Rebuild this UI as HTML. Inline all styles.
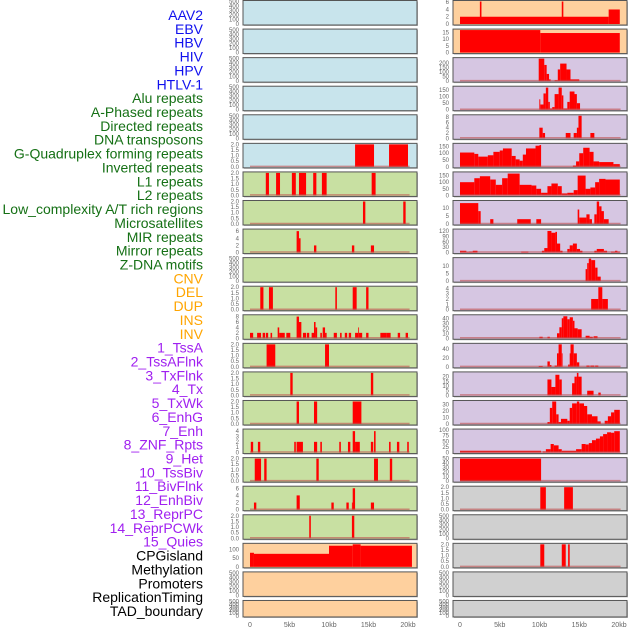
<!DOCTYPE html>
<html><head><meta charset="utf-8"><style>
html,body{margin:0;padding:0;background:#fff;}
svg{display:block;font-family:"Liberation Sans",sans-serif;}
</style></head><body>
<svg id="chart" width="630" height="630" viewBox="0 0 630 630" xmlns="http://www.w3.org/2000/svg"></svg>
<script>
// ---- data ----
const trackLabels = ["AAV2","EBV","HBV","HIV","HPV","HTLV-1","Alu repeats","A-Phased repeats","Directed repeats","DNA transposons","G-Quadruplex forming repeats","Inverted repeats","L1 repeats","L2 repeats","Low_complexity A/T rich regions","Microsatellites","MIR repeats","Mirror repeats","Z-DNA motifs","CNV","DEL","DUP","INS","INV","1_TssA","2_TssAFlnk","3_TxFlnk","4_Tx","5_TxWk","6_EnhG","7_Enh","8_ZNF_Rpts","9_Het","10_TssBiv","11_BivFlnk","12_EnhBiv","13_ReprPC","14_ReprPCWk","15_Quies","CPGisland","Methylation","Promoters","ReplicationTiming","TAD_boundary"];
const labelGroups = [0,0,0,0,0,0,1,1,1,1,1,1,1,1,1,1,1,1,1,2,2,2,2,2,3,3,3,3,3,3,3,3,3,3,3,3,3,3,3,4,4,4,4,4];
const groupColors = ["#1010ee","#157015","#ffa500","#a020f0","#000000"];
const xTicks = [0,5,10,15,20];
const xTickLabels = ["0","5kb","10kb","15kb","20kb"];
const leftBg = ["b","b","b","b","b","b","g","g","g","g","g","g","g","g","g","g","g","g","g","o","o","o"];
const rightBg = ["o","o","p","p","p","p","p","p","p","p","p","p","p","p","p","p","p","y","y","y","y","y"];
const E = [0,100,200,300,400,500];
const T2 = [0,0.5,1,1.5,2];
const leftYmax = [500,500,500,500,500,2,2,2,6.3,500,2,8.3,2,2,2,4.2,2,6.3,2,128,500,500];
const leftTicks = [E,E,E,E,E,T2,T2,T2,[0,2,4,6],E,T2,[0,2,4,6,8],T2,T2,T2,[0,1,2,3,4],T2,[0,2,4,6],T2,[0,50,100],E,E];
const leftSegs = [
 [],[],[],[],[],
 [[13.3,15.7,2],[17.6,20.0,2]],
 [[2.0,2.4,2],[3.3,3.8,2],[5.3,5.8,2],[6.2,7.1,2],[8.0,8.4,2],[9.1,9.7,2],[15.4,15.9,2]],
 [[14.3,14.6,2],[19.4,19.7,2]],
 [[5.9,6.2,6],[6.2,6.4,4],[8.1,8.4,2],[12.9,13.2,2],[15.3,15.7,2]],
 [],
 [[1.3,1.7,2],[2.4,2.9,2],[10.8,11.0,2],[13.0,13.5,2],[14.7,15.0,2]],
 [[0,0.4,2],[0.9,1.4,2],[1.6,1.9,2],[2.0,2.3,2],[2.6,2.8,2],[3.5,3.7,4],[3.7,4.4,2],[4.6,5.1,2],[5.9,6.2,8],[6.2,6.5,6],[6.7,7.1,2],[7.2,7.5,2],[7.8,8.1,2],[8.1,8.3,6],[8.3,8.5,4],[8.9,9.1,2],[9.2,9.5,4],[9.5,9.7,2],[10.6,11.0,2],[11.4,11.6,2],[12.0,12.3,2],[12.5,12.8,2],[13.3,13.7,2],[13.7,13.8,4],[13.8,14.2,2],[14.7,15.0,2],[16.5,17.3,2],[17.3,17.8,2],[18.7,19.0,2],[19.7,20.0,2]],
 [[2.1,3.2,2],[9.5,10.0,2]],
 [[5.1,5.4,2],[15.3,15.6,2]],
 [[5.9,6.2,2],[8.1,8.5,2],[13.0,14.1,2]],
 [[0.1,0.4,2],[1.0,1.3,2],[5.6,5.8,2],[5.9,6.7,2],[8.1,8.5,2],[8.9,9.1,2],[11.3,11.5,2],[12.4,12.7,2],[13.0,13.3,4],[13.3,13.9,2],[15.3,15.6,2],[15.7,15.9,4],[17.6,17.8,2],[18.6,18.9,2],[19.9,20.1,2]],
 [[0.6,1.4,2],[1.8,2.1,2],[8.4,8.7,2],[15.7,16.2,2],[17.7,18.0,2]],
 [[0.5,0.8,2],[5.9,6.3,4],[10.3,10.6,2],[12.2,12.5,2],[12.9,13.0,2],[13.0,13.3,6],[15.3,15.7,2]],
 [[7.5,7.7,2],[12.9,13.2,2]],
 [[0,0.5,80],[0.5,10.0,74],[10.0,13.0,120],[13.0,14.0,128],[14.0,20.5,120]],
 [],[]
];
const rightYmax = [6.2,16.7,250,173,8.5,165,170,14,125,15,4.2,45,50,24,35,100,50,2,500,2,500,500];
const rightTicks = [[0,2,4,6],[0,5,10,15],[0,50,100,150,200],[0,50,100,150],[0,2,4,6,8],[0,50,100,150],[0,50,100,150],[0,5,10],[0,30,60,90,120],[0,5,10],[0,1,2,3,4],[0,10,20,30,40],[0,20,40],[0,5,10,15,20],[0,10,20,30],[0,25,50,75,100],[0,10,20,30,40,50],T2,E,T2,E,E];
const rightSegs = [
 [[0,18.7,2],[18.7,20.1,4],[2.5,2.7,6.2],[12.8,13.0,6.2]],
 [[0,10.1,16.7],[10.1,20.1,14.5]],
 [[9.9,10.6,250],[10.6,10.9,180],[10.9,11.2,80],[11.2,11.4,20],[11.9,12.3,10],[12.3,12.6,130],[12.6,13.4,195],[13.4,13.9,130],[13.9,15.0,20]],
 [[9.98,10.1,80],[10.1,10.5,40],[10.5,10.8,125],[10.8,11.1,170],[11.1,11.3,60],[11.3,11.6,10],[11.6,11.9,20],[11.9,12.4,120],[12.4,12.8,170],[12.8,13.0,110],[13.0,13.5,10],[13.5,13.8,60],[13.8,14.4,140],[14.4,14.7,120],[14.7,15.1,50]],
 [[9.98,10.4,4],[10.4,10.7,2],[13.3,13.9,2],[14.3,14.7,2],[14.7,14.9,4],[14.9,15.3,8.5],[16.4,16.9,2]],
 [[0,1.8,105],[1.8,2.3,95],[2.3,3.5,75],[3.5,4.2,85],[4.2,5.0,110],[5.0,5.4,120],[5.4,6.5,135],[6.5,7.0,80],[7.0,7.5,55],[7.5,7.9,45],[7.9,8.3,90],[8.3,9.5,135],[9.5,10.0,155],[10.0,10.2,160],[14.2,14.6,10],[14.6,15.0,40],[15.0,15.5,100],[15.5,16.3,140],[16.3,16.8,110],[16.8,17.5,40],[17.5,19.3,35],[19.3,20.1,20]],
 [[0,1.8,100],[1.8,2.5,130],[2.5,3.8,145],[3.8,4.5,120],[4.5,5.3,80],[5.3,6.0,130],[6.0,7.5,165],[7.5,9.0,80],[9.0,9.6,75],[9.6,10.2,50],[10.2,11.0,20],[11.0,11.5,70],[11.5,12.3,90],[12.3,12.8,70],[12.8,13.5,15],[13.5,14.3,20],[14.3,14.8,40],[14.8,15.8,150],[15.8,16.4,50],[16.4,17.0,60],[17.0,17.5,100],[17.5,18.3,125],[18.3,20.1,120]],
 [[0,2.3,13],[2.3,2.6,8],[3.8,4.2,3],[7.2,8.9,3],[9.6,10.2,3],[14.8,15.0,9],[15.0,15.9,4],[15.9,16.3,6],[16.3,16.6,3],[16.9,17.2,6],[17.2,17.5,14],[17.5,17.8,11],[17.8,18.1,8],[18.1,18.7,3]],
 [[0,0.8,10],[0.8,1.1,3],[1.1,1.6,5],[1.6,2.2,10],[7.7,8.6,5],[10.3,10.6,10],[10.6,11.0,25],[11.0,11.5,120],[11.5,12.0,110],[12.0,12.2,115],[12.2,12.6,50],[12.6,12.9,10],[13.5,13.8,20],[13.8,14.2,40],[14.2,14.7,50],[14.7,15.1,20],[15.1,15.4,10],[16.9,17.2,10],[17.2,18.1,20],[18.1,18.5,10],[19.0,19.5,5],[19.5,19.8,10],[19.8,20.1,5]],
 [[15.8,16.0,8],[16.0,16.2,12],[16.2,16.5,15],[16.5,17.0,14],[17.0,17.3,9],[17.3,17.7,3]],
 [[16.5,17.4,2],[17.4,17.9,4.2],[17.9,18.6,2]],
 [[9.98,10.4,3],[11.0,11.3,3],[12.2,12.5,10],[12.5,12.8,22],[12.8,13.0,40],[13.0,13.5,44],[13.5,13.8,38],[13.8,14.2,42],[14.2,14.4,35],[14.4,14.8,20],[14.8,15.3,18],[15.8,16.3,5],[16.3,16.7,3],[16.8,17.3,4]],
 [[9.9,10.4,2],[11.0,11.3,12],[11.3,11.5,4],[11.9,12.2,3],[12.2,12.4,30],[12.4,12.8,50],[12.8,12.9,30],[13.6,13.8,5],[13.8,13.9,30],[13.9,14.3,50],[14.3,14.7,30],[14.7,15.0,10],[15.9,16.3,3],[16.4,16.9,3],[17.0,17.4,3]],
 [[11.0,11.5,17],[11.5,12.0,9],[12.0,12.5,22],[12.5,12.8,17],[14.1,14.4,13],[14.4,14.7,20],[14.7,14.9,24],[14.9,15.3,20],[16.0,16.8,5],[17.4,17.7,3]],
 [[11.0,11.3,3],[11.3,11.6,25],[11.6,12.1,35],[12.1,12.4,15],[12.4,12.7,3],[12.7,13.5,8],[13.5,13.8,5],[13.8,14.1,25],[14.1,14.7,32],[14.7,15.0,35],[15.0,15.6,32],[15.6,16.0,28],[16.0,16.6,15],[16.6,17.3,12],[17.3,17.7,4],[18.2,18.6,5],[18.6,19.0,12],[19.0,19.4,18],[19.4,20.1,22]],
 [[0,10.2,8],[10.4,10.8,5],[10.8,11.4,15],[11.4,11.8,38],[11.8,12.4,32],[12.4,12.8,15],[12.8,14.6,8],[14.6,15.3,15],[15.3,15.8,38],[15.8,16.2,36],[16.2,16.6,42],[16.6,17.1,55],[17.1,17.6,62],[17.6,18.0,72],[18.0,18.5,82],[18.5,19.0,90],[19.0,19.4,88],[19.4,20.1,95]],
 [[0,10.2,50]],
 [[10.1,10.8,2],[13.1,14.2,2]],
 [],
 [[10.1,10.6,2],[12.8,13.3,2],[13.6,13.8,2]],
 [],[]
];
// ---- rendering ----
const NS="http://www.w3.org/2000/svg";
const svg=document.getElementById('chart');
const bgColors={b:"#c8e4ec",g:"#c8e0a2",o:"#fed09e",p:"#d6c6e2",y:"#d0d0d0"};
function mk(tag,attrs,parent){const e=document.createElementNS(NS,tag);for(const k in attrs)e.setAttribute(k,attrs[k]);(parent||svg).appendChild(e);return e;}
const pitch=28.57;
const cols=[{x0:243,x1:417,ax:250,scale:7.9,tx:239,bg:leftBg,ymax:leftYmax,ticks:leftTicks,segs:leftSegs,name:'left'},
            {x0:453,x1:627,ax:460,scale:7.95,tx:449,bg:rightBg,ymax:rightYmax,ticks:rightTicks,segs:rightSegs,name:'right'}];
// labels
trackLabels.forEach((t,i)=>{
  const el=mk('text',{x:203,y:15+i*13.86+5,'text-anchor':'end','font-size':'14',fill:groupColors[labelGroups[i]]});
  el.textContent=t;
  
  
});
cols.forEach(c=>{
  const xs=kb=>c.ax+kb*c.scale;
  for(let r=0;r<22;r++){
    const top=r*pitch+0.5, ph=(r===21?16.5:24.5), bot=top+ph;
    const g=mk('g',{});
    
    
    mk('rect',{x:c.x0+1,y:top+1,width:c.x1-c.x0,height:ph,fill:'#bbb'},g);
    mk('rect',{x:c.x0,y:top,width:c.x1-c.x0,height:ph,fill:bgColors[c.bg[r]],stroke:'#555','stroke-width':1},g);
    const ymax=c.ymax[r];
    const ys=v=>bot-1-(v/ymax)*(ph-2);
    const segs=c.segs[r];
    if(segs.length){
      segs.forEach(s=>{
        const b=mk('rect',{x:xs(s[0]),y:ys(s[2]),width:Math.max(0.8,xs(s[1])-xs(s[0])),height:bot-1-ys(s[2]),fill:'#ff0000'},g);
        
        
      });
      if(c.bg[r]!=='o') mk('line',{x1:xs(0),x2:xs(20.2),y1:bot-1.5,y2:bot-1.5,stroke:'#c05050','stroke-opacity':0.6,'stroke-width':1.5},g);
    }
    const isT2=c.ticks[r]===T2;
    c.ticks[r].forEach(v=>{
      const tl=mk('text',{x:c.tx,y:ys(v)+2,'text-anchor':'end','font-size':'6',fill:'#666'},g);
      tl.textContent=isT2?v.toFixed(1):String(v);
      
      
    });
  }
  xTicks.forEach((v,i)=>{
    const t=mk('text',{x:xs(v),y:627,'text-anchor':'middle','font-size':'7',fill:'#666'});
    t.textContent=xTickLabels[i];
    
    
  });
});
</script>
</body></html>
